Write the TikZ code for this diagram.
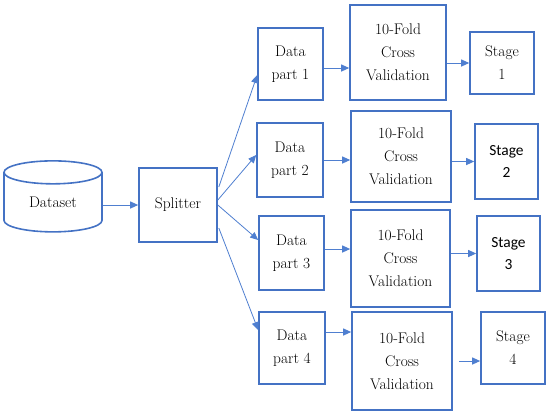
\documentclass[tikz,border=0pt]{standalone}
\usepackage{fontspec}
\newfontfamily\stagesans{Carlito}
\usepackage{xcolor}
\definecolor{cMain}{HTML}{4472C4}
\definecolor{cLine}{HTML}{4F7FD0}
\usepackage{tikz}
\usetikzlibrary{positioning,arrows.meta,shapes.geometric,calc}
\tikzset{
  node-box/.style={draw=cMain,line width=1.6bp,align=center,inner sep=0pt,
    font=\fontsize{15.5}{23}\selectfont},
  node-db/.style={draw=cMain,line width=1.6bp,cylinder,shape border rotate=90,
    aspect=0.48,inner sep=0pt,font=\fontsize{15.5}{23}\selectfont},
  node-sans/.style={font=\stagesans\fontsize{15.5}{23}\selectfont},
  arrow/.style={-{Triangle[length=8bp,width=7bp]},line width=1bp,draw=cLine},
  arrow-split/.style={-{Triangle[length=8bp,width=7bp]},line width=0.8bp,draw=cLine},
}
\begin{document}
\begin{tikzpicture}[x=1bp,y=-1bp]
  \useasboundingbox (0,0) rectangle (550,415);
  % source and splitter
  \node[node-db,minimum width=98bp,minimum height=71bp] (ds) at (53,202.5) {Dataset};
  \node[node-box,minimum width=78bp,minimum height=74bp] (split) at (178,205) {Splitter};
  % data parts
  \node[node-box,minimum width=65bp,minimum height=72bp] (d1) at (290.5,64) {Data\\part 1};
  \node[node-box,minimum width=66bp,minimum height=74bp] (d2) at (290,160) {Data\\part 2};
  \node[node-box,minimum width=65bp,minimum height=74bp] (d3) at (291.5,253) {Data\\part 3};
  \node[node-box,minimum width=66bp,minimum height=72bp] (d4) at (292,348) {Data\\part 4};
  % cross validation
  \node[node-box,minimum width=96bp,minimum height=95bp] (cv1) at (398,52.5) {10-Fold\\Cross\\Validation};
  \node[node-box,minimum width=100bp,minimum height=91bp] (cv2) at (401,156.5) {10-Fold\\Cross\\Validation};
  \node[node-box,minimum width=99bp,minimum height=97bp] (cv3) at (400.5,258.5) {10-Fold\\Cross\\Validation};
  \node[node-box,minimum width=100bp,minimum height=98bp] (cv4) at (402,361) {10-Fold\\Cross\\Validation};
  % stages
  \node[node-box,minimum width=64bp,minimum height=62bp] (st1) at (502,63) {Stage\\1};
  \node[node-box,node-sans,minimum width=63bp,minimum height=75bp] (st2) at (506.5,161.5) {Stage\\2};
  \node[node-box,node-sans,minimum width=63bp,minimum height=75bp] (st3) at (508.5,253.5) {Stage\\3};
  \node[node-box,minimum width=64bp,minimum height=72bp] (st4) at (513,348) {Stage\\4};
  \coordinate (g4) at (459,361);
  % connectors
  \draw[arrow] (ds.east |- split) -- (split.west);
  \draw[arrow-split] ($(split.east)+(1,-18)$) -- ($(d1.west)+(0,11)$);
  \draw[arrow-split] ($(split.east)+(0,-5)$) -- ($(d2.west)+(0,-5)$);
  \draw[arrow-split] (split.east) -- ($(d3.west)+(0,-13)$);
  \draw[arrow-split] ($(split.east)+(1,23)$) -- ($(d4.west)+(0,-18)$);
  \draw[arrow] ($(d1.east)+(0,4)$) -- ($(d1.east -| cv1.west)+(0,4)$);
  \draw[arrow] (d2.east) -- (d2.east -| cv2.west);
  \draw[arrow] ($(d3.east)+(0,-4)$) -- ($(d3.east -| cv3.west)+(0,-4)$);
  \draw[arrow] ($(d4.east)+(0,-16)$) -- ($(d4.east -| cv4.west)+(0,-16)$);
  \draw[arrow] (cv1.east |- st1) -- (st1.west);
  \draw[arrow] (cv2.east |- st2) -- (st2.west);
  \draw[arrow] (cv3.east |- st3) -- (st3.west);
  \draw[arrow] (g4) -- (g4 -| st4.west);
\end{tikzpicture}
\end{document}
